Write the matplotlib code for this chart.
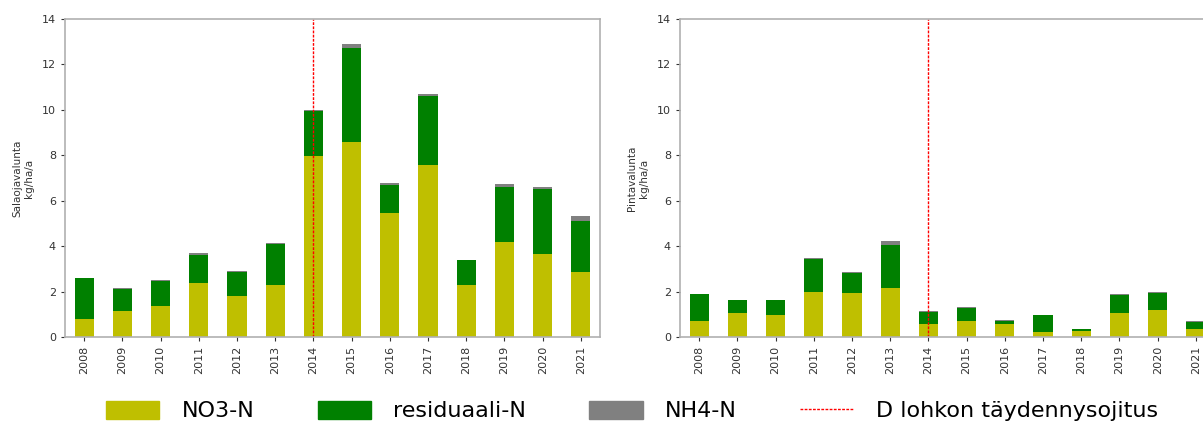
import matplotlib
matplotlib.use("Agg")
import matplotlib.pyplot as plt
import numpy as np
from matplotlib.patches import Patch
from matplotlib.lines import Line2D

years = ["2008", "2009", "2010", "2011", "2012", "2013", "2014",
         "2015", "2016", "2017", "2018", "2019", "2020", "2021"]

# Salaojavalunta (drainage runoff), kg/ha/a
drain_no3 = [0.80, 1.13, 1.38, 2.37, 1.82, 2.27, 7.95, 8.59, 5.44, 7.59, 2.31, 4.19, 3.66, 2.88]
drain_res = [1.78, 1.00, 1.09, 1.26, 1.02, 1.81, 2.01, 4.15, 1.23, 3.01, 1.07, 2.41, 2.85, 2.23]
drain_nh4 = [0.03, 0.02, 0.03, 0.06, 0.05, 0.07, 0.03, 0.14, 0.10, 0.11, 0.03, 0.13, 0.10, 0.22]

# Pintavalunta (surface runoff), kg/ha/a
surf_no3 = [0.69, 1.06, 0.97, 1.99, 1.93, 2.14, 0.57, 0.69, 0.58, 0.23, 0.25, 1.04, 1.19, 0.35]
surf_res = [1.19, 0.57, 0.66, 1.44, 0.88, 1.92, 0.54, 0.60, 0.12, 0.74, 0.10, 0.81, 0.74, 0.32]
surf_nh4 = [0.03, 0.02, 0.02, 0.07, 0.04, 0.17, 0.02, 0.03, 0.03, 0.02, 0.02, 0.04, 0.04, 0.02]

event_year = "2014"

c_no3 = "#bfbf00"
c_res = "#008000"
c_nh4 = "#808080"

fig = plt.figure(figsize=(12.03, 4.23), dpi=100)
ax1 = fig.add_axes([65 / 1203, 1 - 337 / 423, 535 / 1203, (337 - 19) / 423])
ax2 = fig.add_axes([680 / 1203, 1 - 337 / 423, 535 / 1203, (337 - 19) / 423])

def draw(ax, no3, res, nh4, ylabel):
    x = np.arange(len(years))
    no3 = np.array(no3); res = np.array(res); nh4 = np.array(nh4)
    ax.bar(x, no3, width=0.5, color=c_no3)
    ax.bar(x, res, width=0.5, bottom=no3, color=c_res)
    ax.bar(x, nh4, width=0.5, bottom=no3 + res, color=c_nh4)
    ax.axvline(years.index(event_year), color="red", linestyle="--", linewidth=1,
               dashes=(2, 1))
    ax.set_xlim(-0.5, len(years) - 0.5)
    ax.set_ylim(0, 14)
    ax.set_yticks(np.arange(0, 15, 2))
    ax.set_xticks(x)
    ax.set_xticklabels(years, rotation=90)
    ax.tick_params(labelsize=8, colors="#333333", length=3)
    ax.set_ylabel(ylabel, fontsize=7.5, color="#333333", labelpad=6)
    for s in ax.spines.values():
        s.set_color("#b0b0b0")
        s.set_linewidth(1.2)

draw(ax1, drain_no3, drain_res, drain_nh4, "Salaojavalunta\nkg/ha/a")
draw(ax2, surf_no3, surf_res, surf_nh4, "Pintavalunta\nkg/ha/a")

handles = [Patch(color=c_no3), Patch(color=c_res), Patch(color=c_nh4),
           Line2D([0], [0], color="red", linestyle="--", linewidth=1, dashes=(2, 1))]
labels = ["NO3-N", "residuaali-N", "NH4-N", "D lohkon täydennysojitus"]
fig.legend(handles, labels, loc="center", bbox_to_anchor=(632 / 1203, 1 - 411 / 423),
           ncol=4, frameon=False, fontsize=16, handlelength=2.4, handleheight=0.9,
           handletextpad=1.0, columnspacing=2.85)

fig.savefig("out.png", dpi=100)
